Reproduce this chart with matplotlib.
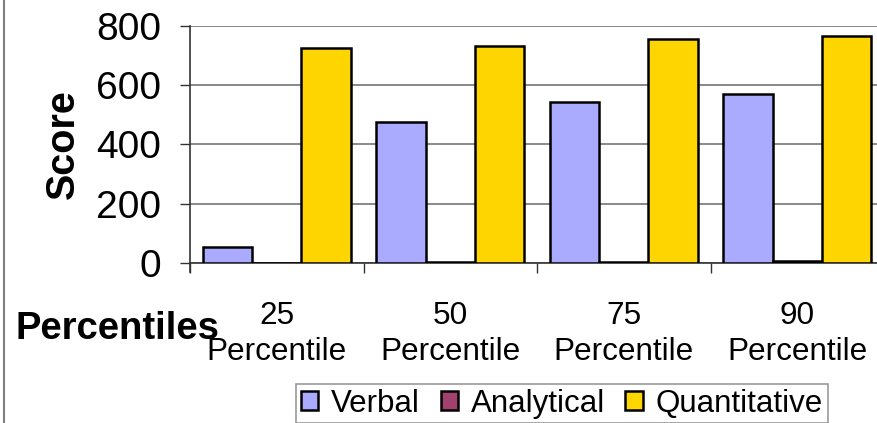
import matplotlib
matplotlib.use("Agg")
import matplotlib.pyplot as plt
from matplotlib.lines import Line2D
import numpy as np

categories = ["25\nPercentile", "50\nPercentile", "75\nPercentile", "90\nPercentile"]
verbal = [54, 476, 543, 570]
analytical = [0, 4.5, 5, 5.5]
quantitative = [726, 732, 756, 766]
series_names = ["Verbal", "Analytical", "Quantitative"]
colors = ["#AAAAFF", "#A0416E", "#FFD500"]
yticks = [0, 200, 400, 600, 800]

plt.rcParams['font.family'] = ['Liberation Sans', 'DejaVu Sans']

W, H = 877, 423
fig = plt.figure(figsize=(W / 100, H / 100), dpi=100)
ax = fig.add_axes([190 / W, 1 - 263 / H, 694 / W, 237 / H])

x = np.arange(len(categories))
bw = 0.285
for i, (vals, name, c) in enumerate(zip([verbal, analytical, quantitative], series_names, colors)):
    ax.bar(x + (i - 1) * bw, vals, width=bw, color=c, edgecolor="black",
           linewidth=1.8, label=name, zorder=3)

ax.set_xlim(-0.5, len(categories) - 0.5)
ax.set_ylim(0, 800)
ax.set_yticks(yticks)
ax.set_yticklabels([str(v) for v in yticks], fontsize=28)
ax.tick_params(axis='y', direction='out', length=7, width=1, color='#333333', pad=14)
ax.yaxis.grid(True, color="#808080", linewidth=1.3, zorder=0)
ax.set_axisbelow(True)

ax.set_xticks(np.arange(len(categories) + 1) - 0.5)
ax.set_xticklabels([])
ax.tick_params(axis='x', which='major', direction='out', length=7, width=1, color='#333333')
ax.set_xticks(x, minor=True)
ax.set_xticklabels(categories, minor=True, fontsize=22.7, linespacing=1.3)
ax.tick_params(axis='x', which='minor', length=0, pad=27)

for s in ["top", "right"]:
    ax.spines[s].set_visible(False)
ax.spines["left"].set_color("#333333")
ax.spines["bottom"].set_color("#333333")
ax.spines["left"].set_linewidth(1.2)
ax.spines["bottom"].set_linewidth(1.2)
ax.spines["left"].set_bounds(0, 800)

ax.plot([-0.5, -0.5], [0, -30], color="#333333", lw=1.2, clip_on=False)

ax.set_ylabel("Score", fontsize=28.5, fontweight="bold")
ax.yaxis.set_label_coords(-108 / 694, 0.5)

fig.text(15 / W, 1 - 329 / H, "Percentiles", fontsize=27.5, fontweight="bold",
         ha="left", va="center")

leg = fig.legend(loc="center", bbox_to_anchor=(562 / W, 1 - 403.5 / H), ncol=3,
                 fontsize=22.5, frameon=True, fancybox=False, edgecolor="#808080",
                 handlelength=0.55, handleheight=0.55, handletextpad=0.42,
                 columnspacing=0.65, borderpad=0.15, borderaxespad=0)
leg.get_frame().set_linewidth(1.2)

fig.add_artist(Line2D([4 / W, 4 / W], [0, 1], color="#808080", lw=1.5))

fig.savefig("out.png", dpi=100)
